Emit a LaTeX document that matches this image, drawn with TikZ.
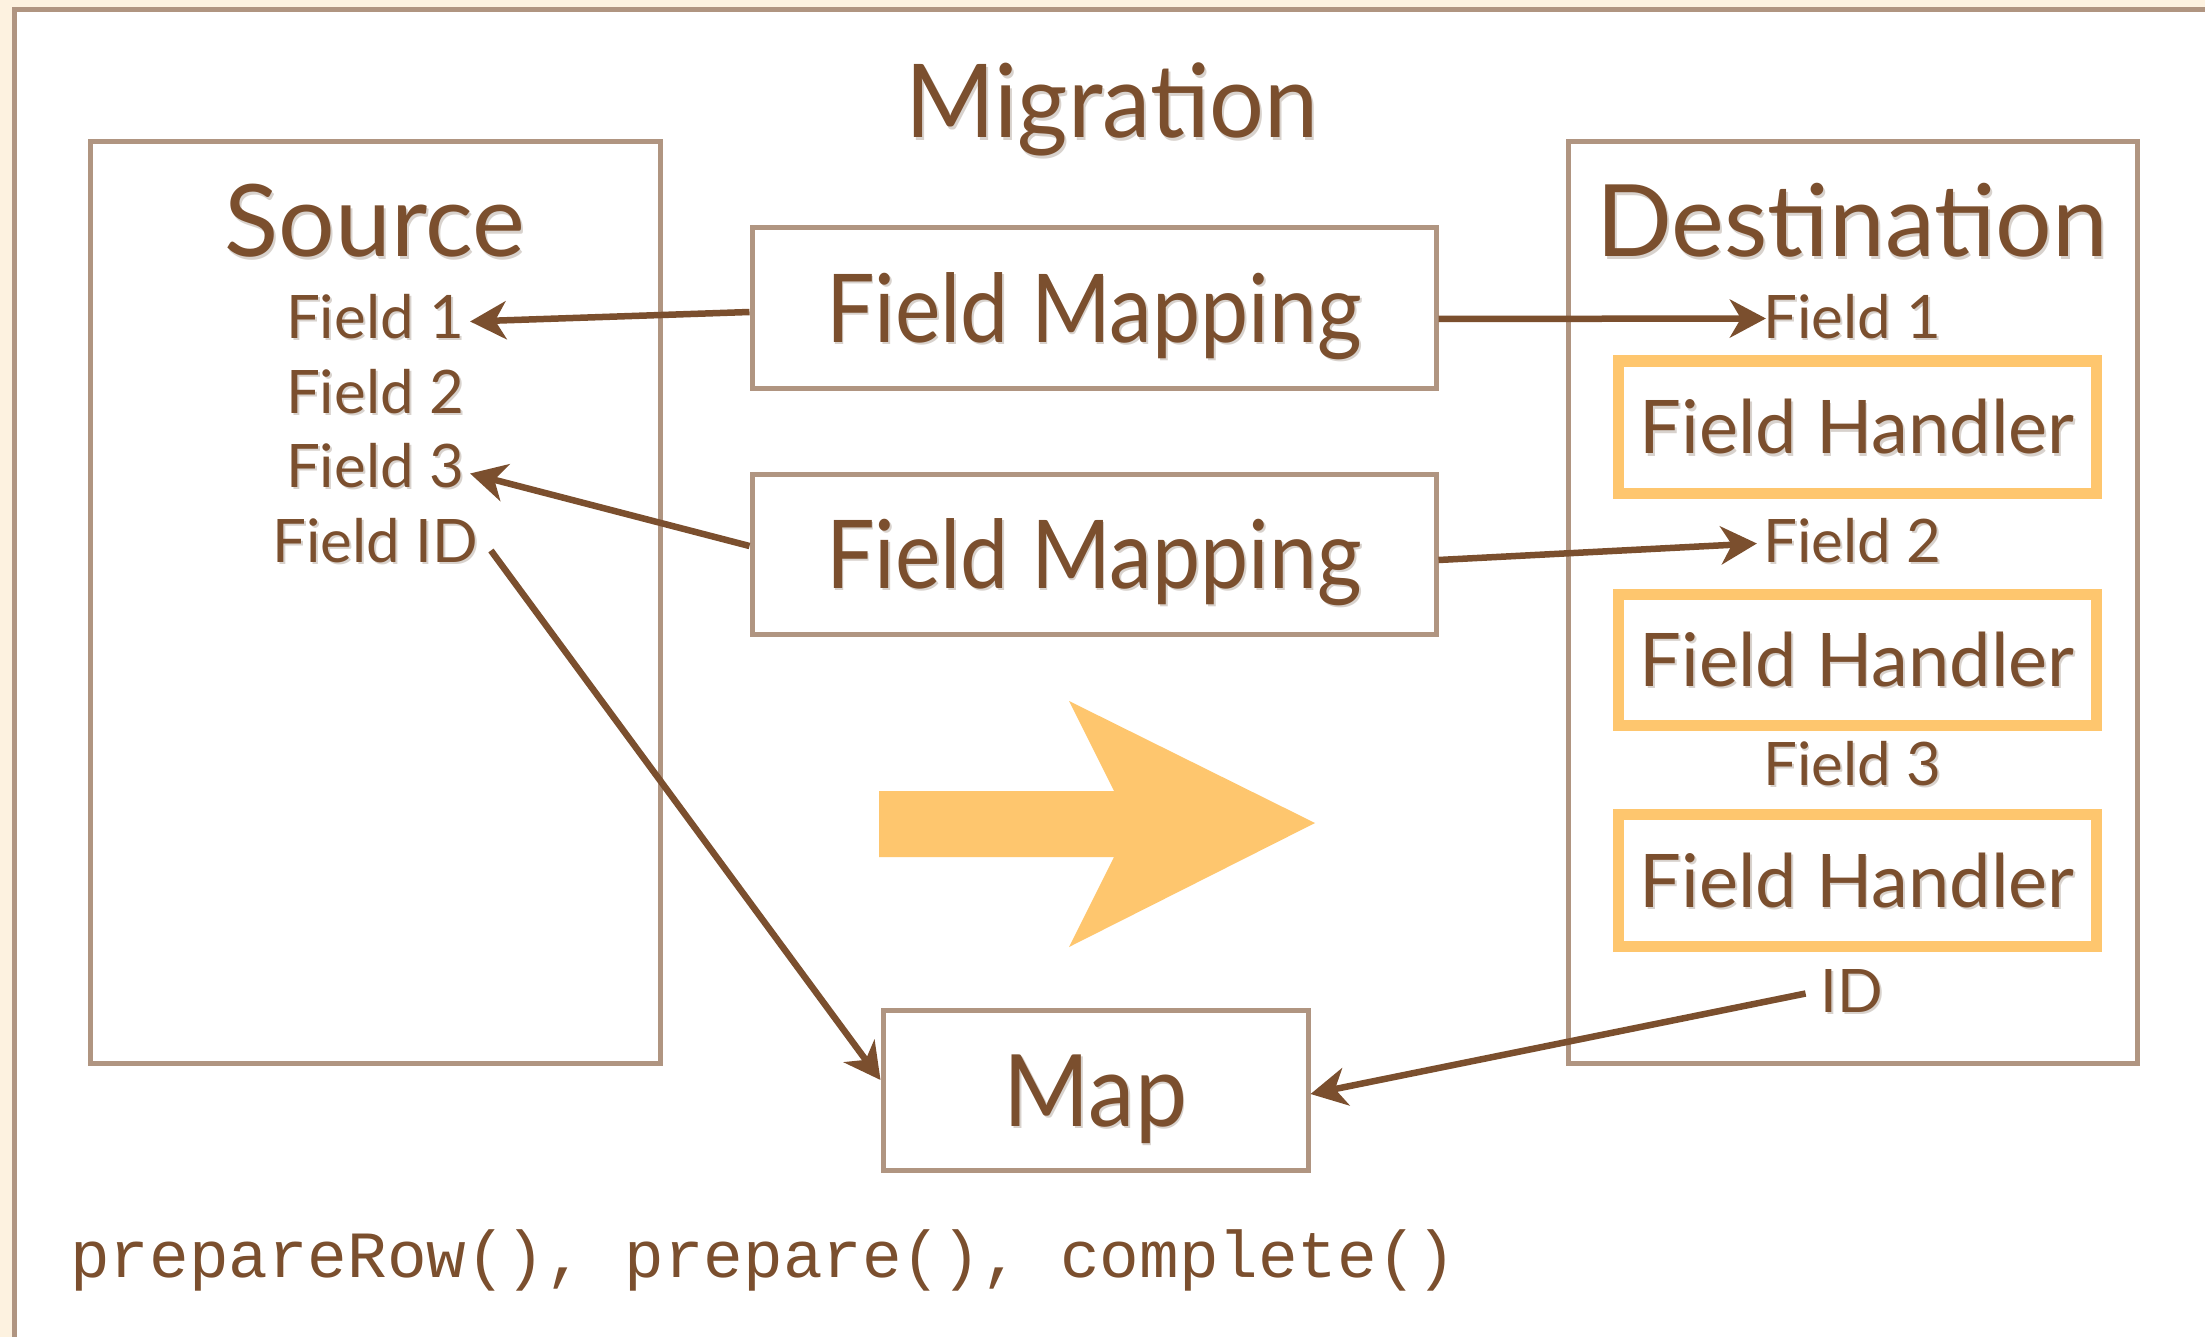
\documentclass[tikz,border=0pt]{standalone}
\usepackage{fontspec}
\setmainfont{Lato}
\setmonofont{Liberation Mono}
\usetikzlibrary{arrows.meta}
\definecolor{ink}{HTML}{7B4F2E}
\definecolor{rim}{HTML}{B09581}
\definecolor{gold}{HTML}{FEC66E}
\definecolor{cream}{HTML}{FDF2E0}
\definecolor{shade}{HTML}{D8D2CD}
% soft drop shadow under each text
\newcommand\shd[1]{\leavevmode\rlap{\kern2pt\raisebox{-2.5pt}{\color{shade}#1}}#1}
% narrower setting for the wide labels
\newcommand\narrow[2]{\scalebox{#1}[1]{#2}}
\begin{document}
\begin{tikzpicture}[x=1pt,y=-1pt,
  plain/.style={draw=rim, line width=5pt, fill=white},
  mapbox/.style={draw=rim, line width=5pt, fill=white, inner sep=0pt,
    text=ink, text height=68pt, text depth=0pt},
  handler/.style={draw=gold, line width=11pt, fill=white, inner sep=0pt,
    minimum width=478pt, text=ink, text height=53pt, text depth=0pt,
    font=\fontsize{74}{80}\selectfont},
  fieldlbl/.style={inner sep=0pt, anchor=base, text=ink, text height=43pt,
    text depth=0pt, font=\fontsize{60}{66}\selectfont},
  title/.style={inner sep=0pt, anchor=base, text=ink},
  conn/.style={draw=ink, line width=6.5pt,
    -{Stealth[length=36pt, width=38pt, inset=11pt]}},
]
\useasboundingbox (0,0) rectangle (2205,1337);
\clip (0,0) rectangle (2205,1337);
\fill[cream] (0,0) rectangle (2205,1337);
% slide frame, running off the right and bottom edges
\draw[rim, line width=5pt, fill=white] (14.5,9.5) rectangle (2260,1400);

% containers
\node[plain, minimum width=570pt, minimum height=921pt] (src) at (375,602.5) {};
\node[plain, minimum width=569pt, minimum height=921pt] (dst) at (1852.5,602.5) {};

% titles
\node[title, font=\fontsize{102}{110}\selectfont] (mig) at (1112,138) {\narrow{0.95}{\shd{Migration}}};
\node[title, font=\fontsize{100}{110}\selectfont] (srct) at (375,257) {\shd{Source}};
\node[title, font=\fontsize{100}{110}\selectfont] (dstt) at (1852,257) {\shd{Destination}};

% source fields
\node[fieldlbl] (sf1) at (375,338) {\shd{Field 1}};
\node[fieldlbl] (sf2) at (375,413) {\shd{Field 2}};
\node[fieldlbl] (sf3) at (375,487) {\shd{Field 3}};
\node[fieldlbl] (sfid) at (375,562) {\shd{Field ID}};

% destination fields and handlers
\node[fieldlbl] (df1) at (1852,338) {\shd{Field 1}};
\node[handler, minimum height=132pt] (fh1) at (1857,427) {\shd{Field Handler}};
\node[fieldlbl] (df2) at (1852,562) {\shd{Field 2}};
\node[handler, minimum height=131pt] (fh2) at (1857,659.5) {\shd{Field Handler}};
\node[fieldlbl] (df3) at (1852,785) {\shd{Field 3}};
\node[handler, minimum height=132pt] (fh3) at (1857,880.5) {\shd{Field Handler}};
\node[fieldlbl] (did) at (1852,1012) {\shd{ID}};

% mappings
\node[mapbox, minimum width=684pt, minimum height=160pt,
  font=\fontsize{95}{100}\selectfont] (fm1) at (1094,308) {\narrow{0.905}{\shd{Field Mapping}}};
\node[mapbox, minimum width=684pt, minimum height=160pt,
  font=\fontsize{95}{100}\selectfont] (fm2) at (1094,554) {\narrow{0.905}{\shd{Field Mapping}}};
\node[mapbox, minimum width=425pt, minimum height=160pt, text height=72pt,
  font=\fontsize{100}{106}\selectfont] (map) at (1095.5,1090) {\narrow{0.93}{\shd{Map}}};

% big flow arrow
\fill[gold] (879,791) -- (1114,791) -- (1069,701) -- (1315,823)
  -- (1069,947) -- (1114,857) -- (879,857) -- cycle;

% connectors
\draw[conn] ([yshift=-4pt]fm1.west) -- ([xshift=6pt,yshift=-5pt]sf1.east);
\draw[conn] ([yshift=8pt]fm2.west) -- ([xshift=6pt,yshift=-8pt]sf3.east);
\draw[conn] ([xshift=13pt,yshift=-10pt]sfid.east) -- ([yshift=10pt]map.west);
\draw[conn] ([yshift=-11pt]fm1.east) -- ([xshift=3pt,yshift=-2pt]df1.west);
\draw[conn] ([yshift=-6pt]fm2.east) -- ([xshift=-6pt,yshift=-3pt]df2.west);
\draw[conn] ([xshift=-15pt,yshift=-3pt]did.west) -- ([yshift=-4pt]map.east);

% hook methods
\node[inner sep=0pt, anchor=base west, text=ink,
  font=\ttfamily\fontsize{66}{70}\selectfont] (hooks) at (70,1277)
  {prepareRow(), prepare(), complete()};
\end{tikzpicture}
\end{document}
